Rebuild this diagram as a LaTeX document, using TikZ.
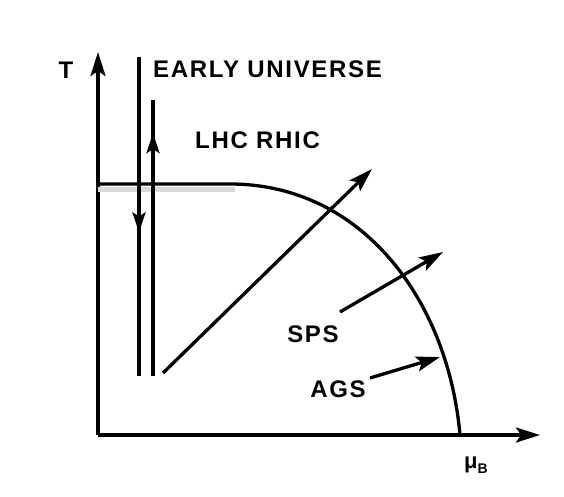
\documentclass[tikz,border=0pt]{standalone}
\usepackage{fontspec}
\setmainfont{Liberation Sans}
\usetikzlibrary{arrows.meta,decorations.markings}
\begin{document}
\begin{tikzpicture}[x=1pt,y=-1pt,
  ln/.style={line width=3.3pt},
  tip/.style={-{Stealth[length=24pt,width=15pt,inset=5pt]}},
  lbl/.style={font=\fontsize{24}{26}\selectfont\bfseries\addfontfeature{LetterSpace=7}, inner sep=0pt},
  midup/.style={postaction={decorate},decoration={markings,mark=at position #1 with {\arrow{Stealth[length=20pt,width=13pt,inset=4pt]}}}}
  ]
\useasboundingbox (0,0) rectangle (564,496);
% axes
\coordinate (o) at (98,435);
\coordinate (ty) at (98,52);
\coordinate (mx) at (540,435);
\draw[ln,tip] (o) -- (ty);
\draw[ln,tip] (o) -- (mx);
\node[lbl] (T) at (66,70) {T};
\node[inner sep=0pt,font=\fontsize{22}{24}\selectfont\bfseries] (mu) at (476,465) {μ\raisebox{-5pt}{\fontsize{14}{14}\selectfont B}};
% phase boundary
\coordinate (c0) at (98,184);
\coordinate (c1) at (230,184);
\coordinate (c2) at (460,435);
\fill[gray!30] (98,187) rectangle (235,192);
\draw[ln] (c0) -- (c1) .. controls (362,184) and (448,300) .. (c2);
% early universe
\coordinate (eu0) at (139,57);
\coordinate (eu1) at (139,376);
\draw[ln,midup=0.55] (eu0) -- (eu1);
\node[lbl,anchor=west] (eu) at (153,69) {EARLY UNIVERSE};
% LHC RHIC
\coordinate (lr0) at (153,376);
\coordinate (lr1) at (153,100);
\draw[ln,midup=0.88] (lr0) -- (lr1);
\node[lbl,anchor=west] (lr) at (195,140) {LHC RHIC};
% diagonal
\coordinate (d0) at (163,373);
\coordinate (d1) at (372,169);
\draw[ln,tip] (d0) -- (d1);
% SPS
\node[lbl] (sps) at (313,334) {SPS};
\coordinate (s0) at (340,312);
\coordinate (s1) at (443,252);
\draw[ln,tip] (s0) -- (s1);
% AGS
\node[lbl] (ags) at (338,389) {AGS};
\coordinate (a0) at (370,378);
\coordinate (a1) at (440,357);
\draw[ln,tip] (a0) -- (a1);
\end{tikzpicture}
\end{document}
